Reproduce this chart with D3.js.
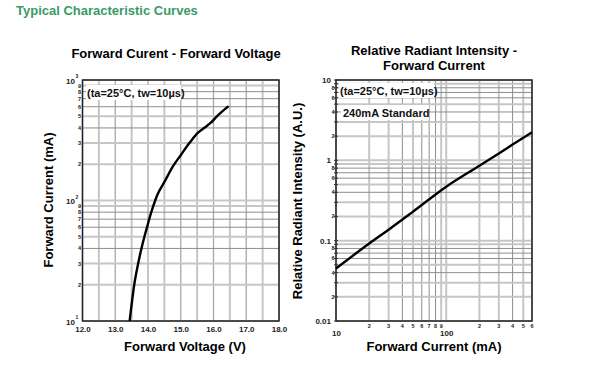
<!DOCTYPE html>
<html><head><meta charset="utf-8">
<script src="https://cdn.jsdelivr.net/npm/d3@7/dist/d3.min.js"></script>
<style>
html,body{margin:0;padding:0;background:#fff;}
svg{display:block;font-family:"Liberation Sans",Arial,sans-serif;}
</style></head>
<body>
<svg id="c" width="589" height="384"></svg>
<script>
// ---- Data ----
const vfVoltage = [13.44, 13.58, 13.70, 13.80, 13.89, 13.97, 14.10, 14.22, 14.29, 14.51, 14.76, 15.01, 15.27, 15.52, 15.72, 15.92, 16.08, 16.46];
const vfCurrent = [10, 20, 30, 40, 50, 60, 80, 100, 112, 144, 192, 240, 301, 364, 401, 442, 492, 607];
const riCurrent = [10, 20, 30, 50, 100, 200, 300, 400, 600];
const riIntensity = [0.045, 0.092, 0.137, 0.23, 0.47, 0.857, 1.22, 1.57, 2.24];
const vTicks = [12, 13, 14, 15, 16, 17, 18];
const vGrid = [12, 12.5, 13, 13.5, 14, 14.5, 15, 15.5, 16, 16.5, 17, 17.5, 18];
const leftYMajor = [{v:10, e:"1"}, {v:100, e:"2"}, {v:1000, e:"3"}];
const rightYMajor = [{v:10, t:"10"}, {v:1, t:"1"}, {v:0.1, t:"0.1"}, {v:0.01, t:"0.01"}];
const rightXMajor = [{v:10, t:"10"}, {v:100, t:"100"}];
const rightXMinor = [20,30,40,50,60,70,80,90,200,300,400,500,600];

const svg = d3.select("#c");
const GRID_LIGHT = "#c6c6c6", GRID_DARK = "#8e8e8e";

// header
svg.append("text").attr("x",16).attr("y",15).attr("font-size",13).attr("font-weight","bold")
  .attr("fill","#3a9a66").text("Typical Characteristic Curves");

function minorVals(lo, hi){
  const out=[];
  for(let d=lo; d<hi; d*=10){ for(let k=1;k<10;k++){ out.push(+(k*d).toPrecision(6)); } }
  out.push(hi);
  return out;
}
function mant(v){ return Math.round(v/Math.pow(10, Math.floor(Math.log10(v)+1e-9))); }
function gridStyle(v){
  const m = mant(v);
  return (m===1||m===3||m===5||m===9||m===2) ? {c:GRID_LIGHT,w:2} : {c:GRID_DARK,w:1};
}

// ---- Left chart ----
const L = {x0:82.5, x1:279, y0:80, y1:321};
const xL = d3.scaleLinear().domain([12,18]).range([L.x0,L.x1]);
const yL = d3.scaleLog().domain([10,1000]).range([L.y1,L.y0]);
const gL = svg.append("g");
gL.selectAll(".vg").data(vGrid).join("line")
  .attr("x1",d=>xL(d)).attr("x2",d=>xL(d)).attr("y1",L.y0).attr("y2",L.y1)
  .attr("stroke",(d,i)=> i%2 ? GRID_LIGHT : "#a8a8a8").attr("stroke-width",(d,i)=> i%2?2:1.3);
const lMinor = minorVals(10,1000);
gL.selectAll(".hg").data(lMinor).join("line")
  .attr("x1",L.x0).attr("x2",L.x1).attr("y1",d=>yL(d)).attr("y2",d=>yL(d))
  .attr("stroke",d=>gridStyle(d).c).attr("stroke-width",d=>gridStyle(d).w);
gL.append("rect").attr("x",L.x0).attr("y",L.y0).attr("width",L.x1-L.x0).attr("height",L.y1-L.y0)
  .attr("fill","none").attr("stroke","#222").attr("stroke-width",1.5);
const axLx = d3.axisBottom(xL).tickValues(vTicks).tickSize(0).tickFormat(d3.format(".1f"));
gL.append("g").attr("transform",`translate(0,${L.y1})`).call(axLx)
  .call(g=>{g.select(".domain").remove();
    g.selectAll("text").attr("font-size",8).attr("font-weight","bold").attr("fill","#222")
     .attr("font-family","Liberation Sans, Arial").attr("dy","0").attr("y",11);});
const lMinorLbl = lMinor.filter(v=>![10,100,1000].includes(v));
gL.selectAll(".ml").data(lMinorLbl).join("text")
  .attr("x",L.x0-1.5).attr("y",d=>yL(d)+2).attr("text-anchor","end")
  .attr("font-size",5.5).attr("font-weight","bold").attr("fill","#222")
  .text(d=>mant(d));
leftYMajor.forEach(m=>{
  gL.append("text").attr("x",L.x0-7.5).attr("y",yL(m.v)+3.5).attr("text-anchor","end")
    .attr("font-size",8).attr("font-weight","bold").attr("fill","#222").text("10");
  gL.append("text").attr("x",L.x0-7).attr("y",yL(m.v)-2).attr("font-size",5)
    .attr("font-weight","bold").attr("fill","#222").text(m.e);
});
gL.append("path").datum(vfVoltage.map((v,i)=>[v,vfCurrent[i]]))
  .attr("d",d3.line().x(d=>xL(d[0])).y(d=>yL(d[1])).curve(d3.curveMonotoneX))
  .attr("fill","none").attr("stroke","#000").attr("stroke-width",2.4);
const annL = gL.append("g");
annL.append("rect").attr("x",86).attr("y",85).attr("width",95).attr("height",15).attr("fill","#fff");
annL.append("text").attr("x",87).attr("y",96.5).attr("font-size",11).attr("font-weight","bold")
  .attr("fill","#111").text("(ta=25°C, tw=10µs)");
svg.append("text").attr("x",176).attr("y",58).attr("text-anchor","middle").attr("font-size",13)
  .attr("font-weight","bold").attr("fill","#000").text("Forward Curent - Forward Voltage");
svg.append("text").attr("x",185).attr("y",351).attr("text-anchor","middle").attr("font-size",13)
  .attr("font-weight","bold").attr("fill","#000").text("Forward Voltage (V)");
svg.append("text").attr("transform","translate(53,200) rotate(-90)").attr("text-anchor","middle")
  .attr("font-size",13).attr("font-weight","bold").attr("fill","#000").text("Forward Current (mA)");

// ---- Right chart ----
const R = {x0:336, x1:532, y0:80, y1:321};
const xR = d3.scaleLog().domain([10,600]).range([R.x0,R.x1]);
const yR = d3.scaleLog().domain([0.01,10]).range([R.y1,R.y0]);
const gR = svg.append("g");
const rx = minorVals(10,100).concat([200,300,400,500,600]);
gR.selectAll(".vg").data(rx).join("line")
  .attr("x1",d=>xR(d)).attr("x2",d=>xR(d)).attr("y1",R.y0).attr("y2",R.y1)
  .attr("stroke",d=>gridStyle(d).c).attr("stroke-width",d=>gridStyle(d).w);
const ry = minorVals(0.01,10);
gR.selectAll(".hg").data(ry).join("line")
  .attr("x1",R.x0).attr("x2",R.x1).attr("y1",d=>yR(d)).attr("y2",d=>yR(d))
  .attr("stroke",d=>gridStyle(d).c).attr("stroke-width",d=>gridStyle(d).w);
gR.append("rect").attr("x",R.x0).attr("y",R.y0).attr("width",R.x1-R.x0).attr("height",R.y1-R.y0)
  .attr("fill","none").attr("stroke","#222").attr("stroke-width",1.5);
rightYMajor.forEach(m=>{
  gR.append("text").attr("x",R.x0-5).attr("y",yR(m.v)+3).attr("text-anchor","end")
    .attr("font-size",8).attr("font-weight","bold").attr("fill","#222").text(m.t);
});
const ryMinorLbl = ry.filter(v=>mant(v)%2===0);
gR.selectAll(".ml").data(ryMinorLbl).join("text")
  .attr("x",R.x0-1.5).attr("y",d=>yR(d)+2).attr("text-anchor","end")
  .attr("font-size",5.5).attr("font-weight","bold").attr("fill","#222")
  .text(d=>mant(d));
gR.selectAll(".tk").data(ry).join("line")
  .attr("x1",R.x0-2).attr("x2",R.x0+2).attr("y1",d=>yR(d)).attr("y2",d=>yR(d))
  .attr("stroke","#333").attr("stroke-width",1);
const axRx = d3.axisBottom(xR).tickValues(rightXMajor.map(d=>d.v)).tickSize(0)
  .tickFormat((d,i)=>rightXMajor[i].t);
gR.append("g").attr("transform",`translate(0,${R.y1})`).call(axRx)
  .call(g=>{g.select(".domain").remove();
    g.selectAll("text").attr("font-size",8).attr("font-weight","bold").attr("fill","#222")
     .attr("font-family","Liberation Sans, Arial").attr("dy","0").attr("y",15);});
gR.selectAll(".xm").data(rightXMinor).join("text")
  .attr("x",d=>xR(d)).attr("y",R.y1+7).attr("text-anchor","middle")
  .attr("font-size",5.5).attr("font-weight","bold").attr("fill","#222")
  .text(d=>mant(d));
gR.append("path").datum(riCurrent.map((v,i)=>[v,riIntensity[i]]))
  .attr("d",d3.line().x(d=>xR(d[0])).y(d=>yR(d[1])).curve(d3.curveMonotoneX))
  .attr("fill","none").attr("stroke","#000").attr("stroke-width",2.4);
gR.append("rect").attr("x",339).attr("y",83).attr("width",95).attr("height",15).attr("fill","#fff");
gR.append("text").attr("x",340).attr("y",94.5).attr("font-size",11).attr("font-weight","bold")
  .attr("fill","#111").text("(ta=25°C, tw=10µs)");
gR.append("rect").attr("x",341).attr("y",105).attr("width",88).attr("height",15).attr("fill","#fff");
gR.append("text").attr("x",343).attr("y",116.5).attr("font-size",11).attr("font-weight","bold")
  .attr("fill","#111").text("240mA Standard");
svg.append("text").attr("x",434).attr("y",55).attr("text-anchor","middle").attr("font-size",13)
  .attr("font-weight","bold").attr("fill","#000").text("Relative Radiant Intensity -");
svg.append("text").attr("x",434).attr("y",70).attr("text-anchor","middle").attr("font-size",13)
  .attr("font-weight","bold").attr("fill","#000").text("Forward Current");
svg.append("text").attr("x",434).attr("y",351).attr("text-anchor","middle").attr("font-size",13)
  .attr("font-weight","bold").attr("fill","#000").text("Forward Current (mA)");
svg.append("text").attr("transform","translate(302,201) rotate(-90)").attr("text-anchor","middle")
  .attr("font-size",13).attr("font-weight","bold").attr("fill","#000").text("Relative Radiant Intensity (A.U.)");
</script>
</body></html>
